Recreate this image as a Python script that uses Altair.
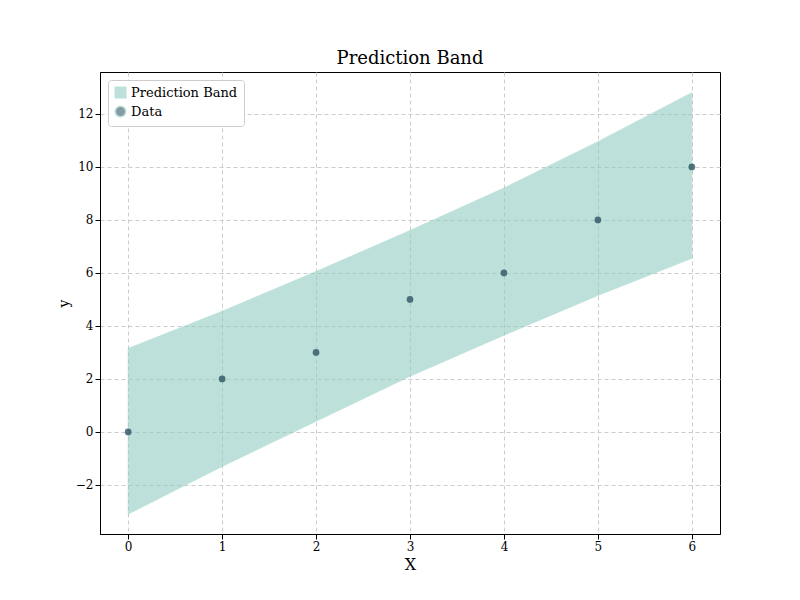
import pandas as pd
import altair as alt

x_vals = [0, 1, 2, 3, 4, 5, 6]
y_vals = [0, 2, 3, 5, 6, 8, 10]
upper = [3.15, 4.55, 6.05, 7.6, 9.2, 10.95, 12.8]
lower = [-3.1, -1.3, 0.4, 2.1, 3.65, 5.15, 6.55]

band = pd.DataFrame({"x": x_vals, "lo": lower, "hi": upper, "s": "Prediction Band"})
pts = pd.DataFrame({"x": x_vals, "y": y_vals, "s": "Data"})

names = ["Prediction Band", "Data"]
color = alt.Color("s:N", scale=alt.Scale(domain=names, range=["#8fcdc0", "#2d5463"]),
                  legend=alt.Legend(title=None, orient="none", legendX=8, legendY=8,
                                    fillColor="white", strokeColor="#cccccc", padding=6,
                                    labelFont="DejaVu Serif", labelFontSize=13,
                                    symbolSize=110, cornerRadius=3))
shape = alt.Shape("s:N", scale=alt.Scale(domain=names, range=["square", "circle"]), legend=None)

xs = alt.X("x:Q", scale=alt.Scale(domain=[-0.3, 6.3], nice=False), title="X",
           axis=alt.Axis(values=x_vals, titleFontSize=16))
ys = alt.Scale(domain=[-3.85, 13.58], nice=False)

area = alt.Chart(band).mark_area(opacity=0.58, stroke="#8fcdc0", strokeOpacity=0.8).encode(
    x=xs,
    y=alt.Y("lo:Q", scale=ys, title="y", axis=alt.Axis(values=[-2, 0, 2, 4, 6, 8, 10, 12], titleFontSize=14)),
    y2="hi:Q",
    color=color,
)
points = alt.Chart(pts).mark_point(filled=True, size=45, opacity=0.8).encode(
    x=xs, y=alt.Y("y:Q", scale=ys), color=color, shape=shape
)

chart = alt.layer(area, points).properties(
    width=620, height=462,
    title=alt.Title("Prediction Band", font="DejaVu Serif", fontSize=18, fontWeight="normal"),
    autosize="none",
    padding={"left": 92, "top": 64, "right": 72, "bottom": 58},
).configure_axis(
    labelFont="DejaVu Serif", titleFont="DejaVu Serif", labelFontSize=12,
    titleFontWeight="normal", gridDash=[4, 3], gridColor="#cccccc",
    domainColor="black", tickColor="black", labelColor="black", titleColor="black",
).configure_view(stroke="black")

chart.save("out.html", embed_options={"renderer": "svg", "actions": False})
